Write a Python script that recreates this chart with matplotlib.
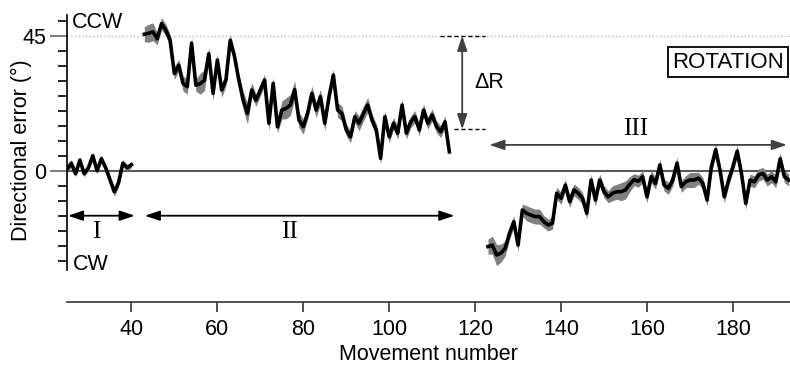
"""
    Directional error across three movement phases (I baseline, II rotation, III washout)
    mean trace with a gray error band
"""
import numpy as np
import matplotlib.pyplot as plt

plt.rcParams['font.family'] = ['Liberation Sans', 'DejaVu Sans']

# phase I: baseline movements
move1 = list(range(25, 41))
err1 = [0.5, 2.5, -1, 3.5, -1, 1, 5, 0, 4, 1, -3, -7, -4, 2.5, 1, 2]
se1 = [1.2, 1.2, 1.0, 1.2, 1.0, 1.0, 1.2, 1.0, 1.2, 1.0, 1.2, 1.5, 1.5, 1.2, 1.0, 1.0]

# phase II: rotation on
move2 = list(range(43, 115))
err2 = [45.5, 45.8, 46.3, 44, 49, 46.9, 43.5,
        32.4, 35.2, 29.1, 28, 42.5, 28.5, 29,
        30.2, 39, 25.8, 36.9, 26.9, 30.2, 43.5,
        38, 30.2, 23.5, 19.1, 26.9, 23.5, 26.9,
        30.2, 15.8, 29.1, 14.6, 20.2, 20.8, 21.9,
        27, 16.9, 14.7, 19.1, 25.8, 20.2, 24.7,
        15.8, 24.7, 31.9, 20.2, 19.1, 13.6, 11.3,
        18, 15.8, 19.1, 21.9, 16.9, 13.6, 4.1,
        18, 11.3, 15.8, 12.5, 21.9, 12.5, 16.3,
        18, 13.6, 20.2, 15.8, 18.6, 14.7, 13,
        16.3, 6.3]
se2 = [2.5, 3, 3, 2, 2, 2, 2,
       2, 2, 2.5, 2.5, 2, 2, 3.5,
       3.5, 2, 2.5, 2, 2.5, 2, 2,
       2, 2, 3, 3.5, 2.5, 2, 2,
       2, 2.5, 2, 2, 3, 3.5, 3.5,
       3, 2.5, 2.5, 2, 2.5, 2.5, 2.5,
       2.5, 2, 2, 2.5, 2.5, 2, 2,
       2, 2.5, 2.5, 2.5, 2, 2, 2,
       2, 2, 2, 2, 2, 2, 2,
       2, 2, 2, 2, 2, 2, 2,
       2, 1.5]

# phase III: rotation removed (after-effect)
move3 = list(range(123, 194))
err3 = [-25.3, -24.8, -28.1, -27.5, -25.9, -20.9, -17,
        -24.8, -13.1, -14.2, -14.8, -15.3, -15.3, -17,
        -18.1, -17.5, -7.5, -9.2, -4.8, -10.3, -6.4,
        -7.5, -9.2, -14.2, -3.1, -9.8, -3.1, -7,
        -8.7, -7.5, -7, -7, -6.4, -4.5, -3,
        -3.5, -2, -8.7, -2, -4.2, 1.9, -4.8,
        -5.9, -3.1, 2.5, -5.3, -3.7, -3.1, -3.1,
        -2.5, -4.2, -9.8, 1.3, 7, 0.2, -8.7,
        -3.1, 1.3, 6.5, -0.9, -10.9, -3.1, -3.7,
        -1.4, -0.9, -3.1, -2, -3.7, 4, -2,
        -3.1]
se3 = [2.5, 3, 3.5, 3, 2.5, 2, 2,
       2, 2, 2.5, 2.5, 2.5, 2.5, 2,
       2, 2, 2, 2, 2, 2, 2,
       2, 2, 2, 2, 2, 2, 2,
       2, 2.5, 2.5, 3, 3, 2.5, 2,
       2, 2, 2, 2, 2, 2, 2,
       2, 2, 2, 2, 2, 2.5, 2.5,
       2, 2, 2, 2, 2, 2, 2,
       2, 2, 2, 2, 2, 2, 2,
       2, 2, 2, 2, 2, 2, 2,
       2]

x_ticks = [40, 60, 80, 100, 120, 140, 160, 180]
y_ticks = [0, 45]

FS = 15.5


def draw_phase(ax, move, err, se):
    m = np.array(move)
    e = np.array(err)
    s = np.array(se)
    ax.fill_between(m, e - s, e + s, color='0.5', lw=0, zorder=2)
    ax.plot(m, e, color='black', lw=2.6, solid_joinstyle='round', zorder=3)


def double_arrow(ax, p0, p1, color='black'):
    ax.annotate('', xy=p1, xytext=p0,
                arrowprops=dict(arrowstyle='<|-|>,head_length=0.6,head_width=0.2',
                                color=color, lw=1.3, mutation_scale=15,
                                shrinkA=0, shrinkB=0), zorder=4)


def main():
    fig = plt.figure(figsize=(7.9, 3.78), dpi=100)
    ax = fig.add_axes([0.0848, 0.2865, 0.9152, 0.6746])
    ax.set_xlim(25, 193.3)
    ax.set_ylim(-33, 52)

    # reference lines: zero and full rotation
    ax.axhline(0, color='0.35', lw=1.5, zorder=1)
    ax.axhline(45, color='0.72', ls=':', lw=1, zorder=1)

    draw_phase(ax, move1, err1, se1)
    draw_phase(ax, move2, err2, se2)
    draw_phase(ax, move3, err3, se3)

    # axes styling
    for side in ['top', 'right']:
        ax.spines[side].set_visible(False)
    ax.spines['left'].set_linewidth(1.2)
    ax.spines['bottom'].set_position(('outward', 23.3))
    ax.spines['bottom'].set_linewidth(1.2)
    ax.spines['bottom'].set_color('0.2')

    ax.set_yticks(y_ticks)
    ax.set_yticks(np.arange(-30, 55, 5), minor=True)
    ax.tick_params(axis='y', which='major', length=12, width=1.2, color='0.4',
                   labelsize=FS, pad=3)
    ax.tick_params(axis='y', which='minor', length=6.5, width=1.2, color='black')
    ax.set_xticks(x_ticks)
    ax.tick_params(axis='x', which='major', length=7, width=1.2, color='0.2',
                   labelsize=FS, pad=5)
    ax.set_xlabel('Movement number', fontsize=FS, labelpad=3)

    fig.text(21.7 / 790, 1 - 150 / 378, 'Directional error (°)', rotation=90,
             ha='center', va='center', fontsize=FS)

    ax.text(26.2, 49.4, 'CCW', ha='left', va='center', fontsize=FS)
    ax.text(26.4, -31.2, 'CW', ha='left', va='center', fontsize=FS)

    # phase arrows and labels
    double_arrow(ax, (25.2, -15), (40.8, -15))
    double_arrow(ax, (43.1, -15), (115.2, -15))
    double_arrow(ax, (123.3, 8.6), (192.6, 8.6), color='0.25')
    serif = ['Liberation Serif', 'DejaVu Serif']
    ax.text(31.9, -20.4, 'I', ha='center', va='center', fontsize=18, family=serif)
    ax.text(76.8, -20.4, 'II', ha='center', va='center', fontsize=18, family=serif)
    ax.text(157.4, 13.9, 'III', ha='center', va='center', fontsize=18, family=serif)

    # size of the adaptation
    double_arrow(ax, (117, 13.8), (117, 45), color='0.25')
    ax.plot([111.9, 122.2], [45, 45], color='black', lw=1, dashes=(3, 2))
    ax.plot([115.2, 122.2], [13.8, 13.8], color='black', lw=1, dashes=(3, 2))
    ax.text(123.3, 29.4, 'ΔR', ha='center', va='center', fontsize=FS)

    fig.text(672 / 790, 1 - 62.3 / 378, 'ROTATION', ha='left', va='center',
             fontsize=16,
             bbox=dict(boxstyle='square,pad=0.2', fc='white', ec='black', lw=1.3))

    fig.savefig('out.png', dpi=100)


if __name__ == '__main__':
    main()
